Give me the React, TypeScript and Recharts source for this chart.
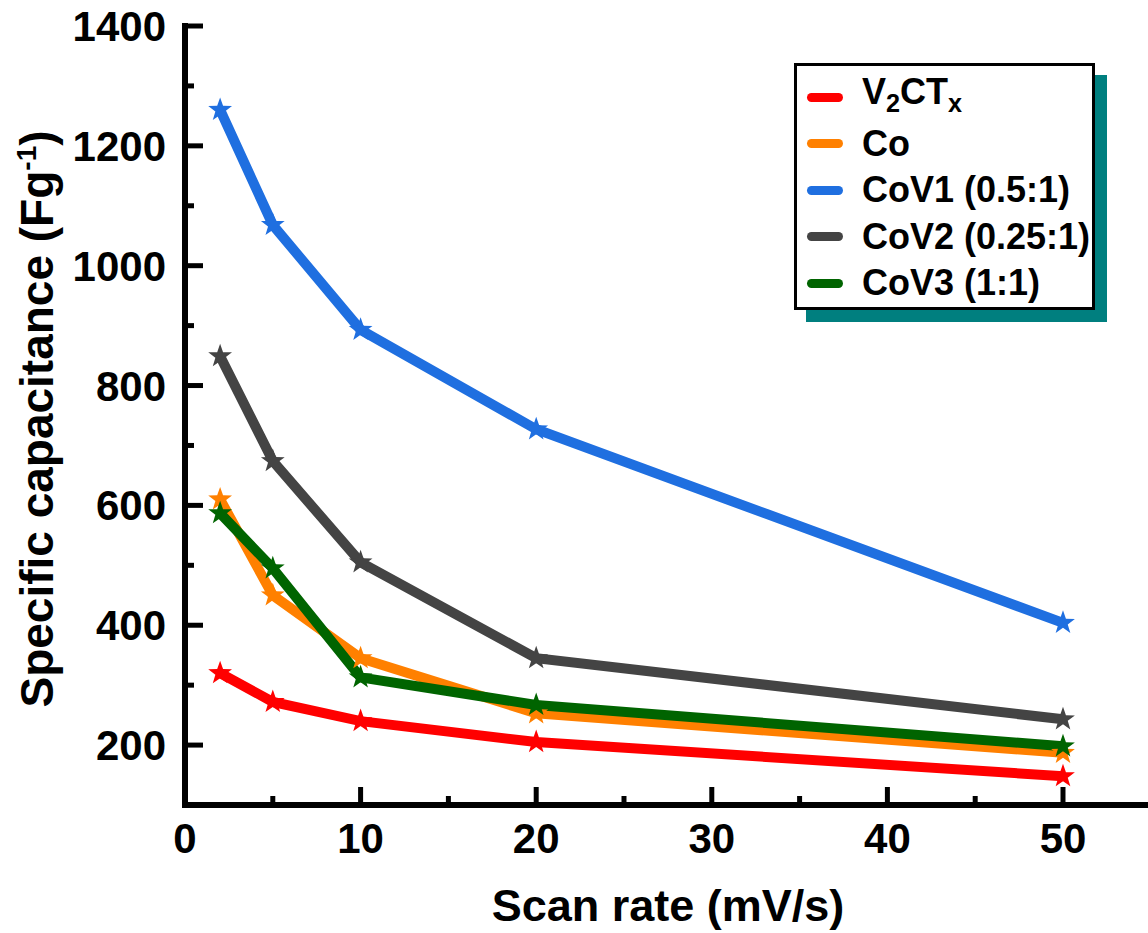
import React from 'react';
import { LineChart, Line, XAxis, YAxis, Legend } from 'recharts';

const FONT = '"Liberation Sans", Arial, Helvetica, sans-serif';

// scan rates (mV/s) and specific capacitance (F/g) per electrode
const scanRates = [2, 5, 10, 20, 50];
const v2ctx = [320, 272, 240, 205, 148];
const co = [610, 450, 345, 253, 187];
const cov1 = [1260, 1068, 893, 727, 404];
const cov2 = [849, 674, 505, 345, 243];
const cov3 = [587, 495, 313, 267, 198];

const seriesKeys = ['v2ctx', 'co', 'cov1', 'cov2', 'cov3'];
const seriesNames = ['V2CTx', 'Co', 'CoV1 (0.5:1)', 'CoV2 (0.25:1)', 'CoV3 (1:1)'];
const seriesColors = ['#ff0000', '#ff8000', '#1f6fe0', '#444444', '#006400'];
const seriesValues = [v2ctx, co, cov1, cov2, cov3];

const xTicks = [0, 5, 10, 15, 20, 25, 30, 35, 40, 45, 50];
const yTicks = [200, 300, 400, 500, 600, 700, 800, 900, 1000, 1100, 1200, 1300, 1400];

const data = scanRates.map((rate, i) => {
  const row: Record<string, number> = { rate };
  seriesKeys.forEach((k, s) => { row[k] = seriesValues[s][i]; });
  return row;
});

function starPoints(cx: number, cy: number, outer: number, inner: number) {
  const pts: string[] = [];
  for (let i = 0; i < 10; i++) {
    const r = i % 2 === 0 ? outer : inner;
    const a = -Math.PI / 2 + (i * Math.PI) / 5;
    pts.push(`${cx + r * Math.cos(a)},${cy + r * Math.sin(a)}`);
  }
  return pts.join(' ');
}

const makeStar = (color: string) => (props: any) => {
  const { cx, cy, index } = props;
  if (cx == null || cy == null) return <g key={index} />;
  return <polygon key={index} points={starPoints(cx, cy, 12.5, 5)} fill={color} />;
};

const XTick = (props: any) => {
  const { x, y, payload } = props;
  const major = payload.value % 10 === 0;
  return (
    <g>
      <line x1={x} x2={x} y1={y} y2={y - (major ? 18 : 9)} stroke="#000" strokeWidth={5} />
      {major && (
        <text x={x} y={y + 48} textAnchor="middle" fontFamily={FONT} fontWeight="bold" fontSize={42} fill="#000">
          {payload.value}
        </text>
      )}
    </g>
  );
};

const YTick = (props: any) => {
  const { x, y, payload } = props;
  const major = payload.value % 200 === 0;
  return (
    <g>
      <line x1={x} x2={x + (major ? 18 : 9)} y1={y} y2={y} stroke="#000" strokeWidth={5} />
      {major && (
        <text x={x - 19} y={y} dy={15} textAnchor="end" fontFamily={FONT} fontWeight="bold" fontSize={42} fill="#000">
          {payload.value}
        </text>
      )}
    </g>
  );
};

const legendName = (name: string) => {
  if (name === 'V2CTx') {
    return (
      <span>
        V<sub style={{ fontSize: '0.7em' }}>2</sub>CT<sub style={{ fontSize: '0.7em' }}>x</sub>
      </span>
    );
  }
  return name;
};

// legend keeps the series order (the default sorter would reorder by name)
const renderLegend = () => (
  <div
    style={{
      boxSizing: 'border-box',
      width: 301,
      height: 247,
      border: '3px solid #000',
      background: '#fff',
      boxShadow: '12px 12px 0 #007f7f',
      paddingTop: 8,
      fontFamily: FONT,
      fontWeight: 'bold',
      fontSize: 36,
      color: '#000',
    }}
  >
    {seriesNames.map((name, i) => (
      <div key={name} style={{ height: 46.5, display: 'flex', alignItems: 'center', lineHeight: '46px' }}>
        <span
          style={{
            display: 'inline-block',
            width: 36,
            height: 9,
            borderRadius: 4.5,
            background: seriesColors[i],
            marginLeft: 10,
            marginRight: 19,
          }}
        />
        {legendName(name)}
      </div>
    ))}
  </div>
);

export default function App() {
  return (
    <div style={{ position: 'absolute', left: 0, top: 0, background: '#fff' }}>
      <LineChart width={1148} height={933} data={data} margin={{ top: 26, right: 3, bottom: 0, left: 0 }}>
        <XAxis
          dataKey="rate"
          type="number"
          domain={[0, 54.67]}
          ticks={xTicks}
          interval={0}
          height={128}
          tickSize={0}
          tickMargin={0}
          tickLine={false}
          axisLine={{ stroke: '#000', strokeWidth: 6, strokeLinecap: 'square' }}
          tick={<XTick />}
          label={{
            content: () => (
              <text x={668} y={921} textAnchor="middle" fontFamily={FONT} fontWeight="bold" fontSize={45} fill="#000">
                Scan rate (mV/s)
              </text>
            ),
          }}
        />
        <XAxis
          xAxisId="top"
          orientation="top"
          dataKey="rate"
          type="number"
          domain={[0, 54.67]}
          height={0}
          tick={false}
          tickLine={false}
          axisLine={{ stroke: '#000', strokeWidth: 6, strokeLinecap: 'square' }}
        />
        <YAxis
          type="number"
          domain={[100, 1400]}
          ticks={yTicks}
          interval={0}
          width={185}
          tickSize={0}
          tickMargin={0}
          tickLine={false}
          axisLine={{ stroke: '#000', strokeWidth: 6, strokeLinecap: 'square' }}
          tick={<YTick />}
          label={{
            content: () => (
              <text x={53} y={419} transform="rotate(-90, 53, 419)" textAnchor="middle" fontFamily={FONT} fontWeight="bold" fontSize={46} fill="#000">
                Specific capacitance (Fg
                <tspan dy={-17} fontSize={28}>-1</tspan>
                <tspan dy={17} fontSize={46}>)</tspan>
              </text>
            ),
          }}
        />
        <YAxis
          yAxisId="right"
          orientation="right"
          type="number"
          domain={[100, 1400]}
          width={0}
          tick={false}
          tickLine={false}
          axisLine={{ stroke: '#000', strokeWidth: 2.5 }}
        />
        <Legend
          content={renderLegend}
          layout="vertical"
          align="center"
          verticalAlign="middle"
          wrapperStyle={{ position: 'absolute', left: 794, top: 63, width: 'auto', height: 'auto' }}
        />
        {seriesKeys.map((key, s) => (
          <Line
            key={key}
            type="linear"
            dataKey={key}
            name={seriesNames[s]}
            stroke={seriesColors[s]}
            strokeWidth={10}
            dot={makeStar(seriesColors[s])}
            activeDot={false}
            isAnimationActive={false}
          />
        ))}
      </LineChart>
    </div>
  );
}
